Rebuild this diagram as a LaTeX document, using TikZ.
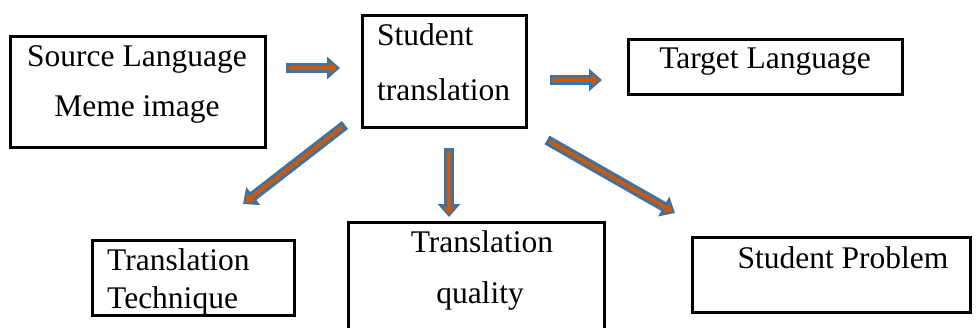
\documentclass[tikz,border=0pt]{standalone}
\usepackage{fontspec}
\setmainfont{Liberation Serif}
\usetikzlibrary{arrows.meta}
\definecolor{arrowblue}{HTML}{41719C}
\definecolor{arrowfill}{HTML}{C55A11}

\begin{document}
\begin{tikzpicture}[x=1pt,y=-1pt,
  box/.style={draw=black,line width=3pt,fill=white,inner sep=0pt},
  lbl/.style={font=\fontsize{31.5}{36}\selectfont,inner sep=0pt},
  blockarrow/.style={draw=arrowfill,line width=4pt,
    shorten >=3pt,shorten <=3pt,-{Triangle[width=11pt,length=7pt]},
    preaction={draw=arrowblue,line width=10pt,shorten >=0pt,shorten <=0pt,
      -{Triangle[width=22pt,length=13pt]}}}]
\useasboundingbox (0,0) rectangle (980,327);
% boxes
\node[box,minimum width=255pt,minimum height=111pt] (src) at (137.5,91.5) {};
\node[box,minimum width=164pt,minimum height=112pt] (stu) at (444,71) {};
\node[box,minimum width=274pt,minimum height=55pt] (tgt) at (765,66.5) {};
\node[box,minimum width=202pt,minimum height=75pt] (tech) at (193,277.5) {};
\node[box,minimum width=256pt,minimum height=118pt] (qual) at (476,281) {};
\node[box,minimum width=278pt,minimum height=75pt] (prob) at (831,274.5) {};
% texts
\node[lbl,anchor=base] (srcA) at (137,66) {Source Language};
\node[lbl,anchor=base] (srcB) at (137,116) {Meme image};
\node[lbl,anchor=base west] (stuA) at (377,45) {Student};
\node[lbl,anchor=base west] (stuB) at (377,100) {translation};
\node[lbl,anchor=base] (tgtA) at (765,68) {Target Language};
\node[lbl,anchor=base west] (techA) at (107,270) {Translation};
\node[lbl,anchor=base west] (techB) at (107,308) {Technique};
\node[lbl,anchor=base] (qualA) at (482,252) {Translation};
\node[lbl,anchor=base] (qualB) at (480,303) {quality};
\node[lbl,anchor=base] (probA) at (843,268) {Student Problem};
% arrow ends
\coordinate (a1s) at (286,68);  \coordinate (a1e) at (340,68);
\coordinate (a2s) at (550,80);  \coordinate (a2e) at (602,80);
\coordinate (a3s) at (345,125); \coordinate (a3e) at (243,204);
\coordinate (a4s) at (449,148); \coordinate (a4e) at (449,217);
\coordinate (a5s) at (547,140); \coordinate (a5e) at (675,213);
\draw[blockarrow] (a1s) -- (a1e);
\draw[blockarrow] (a2s) -- (a2e);
\draw[blockarrow] (a3s) -- (a3e);
\draw[blockarrow] (a4s) -- (a4e);
\draw[blockarrow] (a5s) -- (a5e);
\end{tikzpicture}
\end{document}
